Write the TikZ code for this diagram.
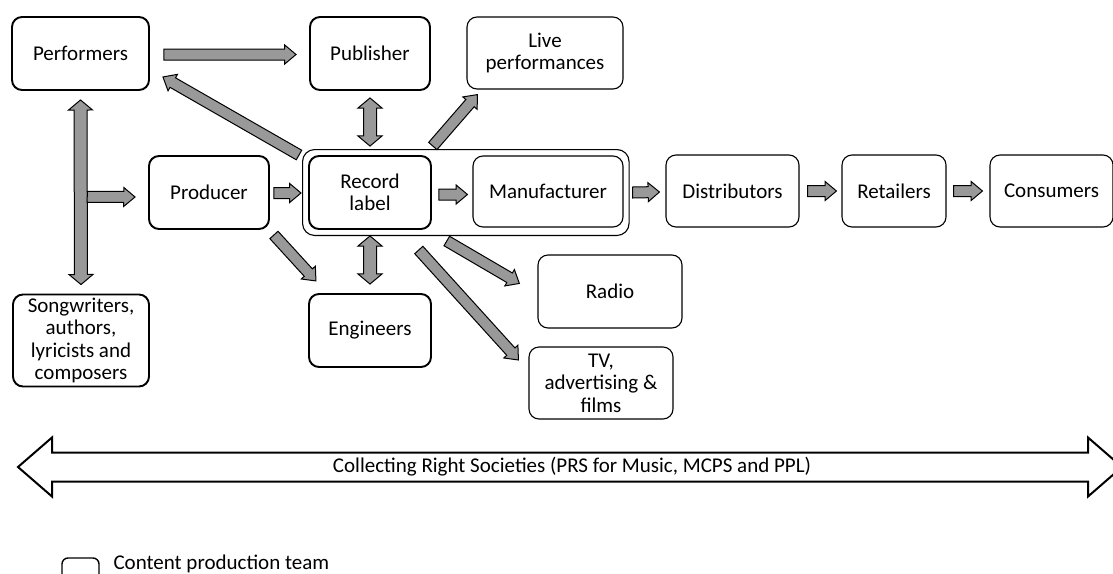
\documentclass[tikz,border=0pt]{standalone}
\usepackage{fontspec}
\setmainfont{Carlito}
\usepackage{tikz}
\usetikzlibrary{positioning,calc,fit,shapes.arrows}

% grey block arrows, laid between two points
\newcommand{\blockarrow}[2]{%
  \path let \p1=(#1), \p2=(#2) in
    node[flowarrow, minimum height={veclen(\x2-\x1,\y2-\y1)},
      rotate={atan2(\y2-\y1,\x2-\x1)}, anchor=tail] at (\p1) {};}
\newcommand{\twowayarrow}[2]{%
  \path let \p1=(#1), \p2=(#2) in
    node[bothwayarrow, minimum height={veclen(\x2-\x1,\y2-\y1)},
      rotate={atan2(\y2-\y1,\x2-\x1)}] at ($(\p1)!0.5!(\p2)$) {};}

\tikzset{
  team/.style={draw, line width=1.9pt, rounded corners=10pt, align=center},
  outlet/.style={draw, line width=1.1pt, rounded corners=10pt, align=center},
  flowarrow/.style={single arrow, draw, fill=black!40, line width=1pt,
    inner xsep=0pt, inner ysep=5pt, outer sep=0pt,
    single arrow head extend=4pt, single arrow tip angle=80,
    single arrow head indent=0pt},
  bothwayarrow/.style={double arrow, draw, fill=black!40, line width=1pt,
    inner xsep=0pt, inner ysep=6pt, outer sep=0pt,
    double arrow head extend=5.5pt, double arrow tip angle=100,
    double arrow head indent=0pt},
  bigarrow/.style={draw, line width=2pt, fill=white, line join=miter}
}

\begin{document}
\begin{tikzpicture}[x=1pt, y=-1pt, font=\fontsize{21}{22.5}\selectfont]

\useasboundingbox (0,0) rectangle (1113,573);

% ===========================
% Boxes
% ===========================
\node[team, minimum width=137pt, minimum height=73pt] (perf) at (80.5,53.5) {Performers};
\node[team, minimum width=120pt, minimum height=73pt] (pub) at (370,53.5) {Publisher};
\node[outlet, minimum width=156pt, minimum height=72pt] (live) at (545,53) {Live\\performances};

\node[team, minimum width=120pt, minimum height=73pt] (prod) at (209,192.5) {Producer};
\node[team, minimum width=122pt, minimum height=73pt] (rec) at (370,192.5) {Record\\label};
\node[outlet, minimum width=150pt, minimum height=71pt] (manuf) at (548,191.5) {Manufacturer};
\node[outlet, rounded corners=12pt, inner sep=5.5pt, fit=(rec)(manuf)] (recfirm) {};

\node[outlet, minimum width=133pt, minimum height=72pt] (dist) at (732.5,191) {Distributors};
\node[outlet, minimum width=104pt, minimum height=72pt] (ret) at (894,191) {Retailers};
\node[outlet, minimum width=123pt, minimum height=72pt] (cons) at (1051.5,191) {Consumers};

\node[outlet, minimum width=144pt, minimum height=73pt] (radio) at (610,291.5) {Radio};
\node[team, minimum width=122pt, minimum height=73pt] (eng) at (370,330.5) {Engineers};
\node[outlet, minimum width=144pt, minimum height=72pt] (tv) at (601,383) {TV,\\advertising \&\\films};
\node[team, minimum width=136pt, minimum height=91pt] (song) at (81,340.5)
  {Songwriters,\\authors,\\lyricists and\\composers};

% ===========================
% Block arrows
% ===========================
\blockarrow{[shift={(14,1)}]perf.east}{[shift={(-13,1)}]pub.west}
\blockarrow{[shift={(4,0.5)}]prod.east}{[shift={(-1,0.5)}]recfirm.west}
\blockarrow{[shift={(7,2)}]rec.east}{[shift={(-5,3)}]manuf.west}
\blockarrow{[shift={(3,0)}]recfirm.east}{[shift={(-6,1)}]dist.west}
\blockarrow{[shift={(8,0)}]dist.east}{[shift={(-5,0)}]ret.west}
\blockarrow{[shift={(7,0)}]ret.east}{[shift={(-7,0)}]cons.west}

% two-way links
\twowayarrow{[shift={(0,9)}]perf.south}{[shift={(0,-9)}]song.north}
\twowayarrow{[shift={(0,7)}]pub.south}{[shift={(0,-9)}]rec.north}
\twowayarrow{[shift={(0,6)}]rec.south}{[shift={(0,-9)}]eng.north}

% branch off the performers line
\coordinate (split) at ([shift={(6.5,4.5)}]$(perf.south)!0.5!(song.north)$);
\blockarrow{split}{[shift={(-13,4.5)}]prod.west}

% diagonal links
\blockarrow{[shift={(-3,6)}]recfirm.north west}{[shift={(13,-14)}]perf.south east}
\blockarrow{[shift={(-33,-3)}]recfirm.north}{[shift={(11,5)}]live.south west}
\blockarrow{[shift={(4,5)}]prod.south east}{[shift={(8,-12)}]eng.north west}
\blockarrow{[shift={(-19,5)}]recfirm.south}{[shift={(-18,-8)}]radio.west}
\blockarrow{[shift={(-47,14)}]recfirm.south}{[shift={(-10,-23)}]tv.west}

% ===========================
% Collecting societies
% ===========================
\draw[bigarrow] (18,467) -- (52,437.5) -- (52,452.5) -- (1088,452.5) -- (1088,437.5)
  -- (1122,467) -- (1088,496.5) -- (1088,481.5) -- (52,481.5) -- (52,496.5) -- cycle;
\node (crs) at (572,467) {Collecting Right Societies (PRS for Music, MCPS and PPL)};

% Legend
\node[draw, line width=1.4pt, rounded corners=6pt, minimum width=37pt, minimum height=22pt] (key) at (80.5,569) {};
\node[anchor=base west] (keytext) at (110,569) {Content production team};

\end{tikzpicture}
\end{document}
